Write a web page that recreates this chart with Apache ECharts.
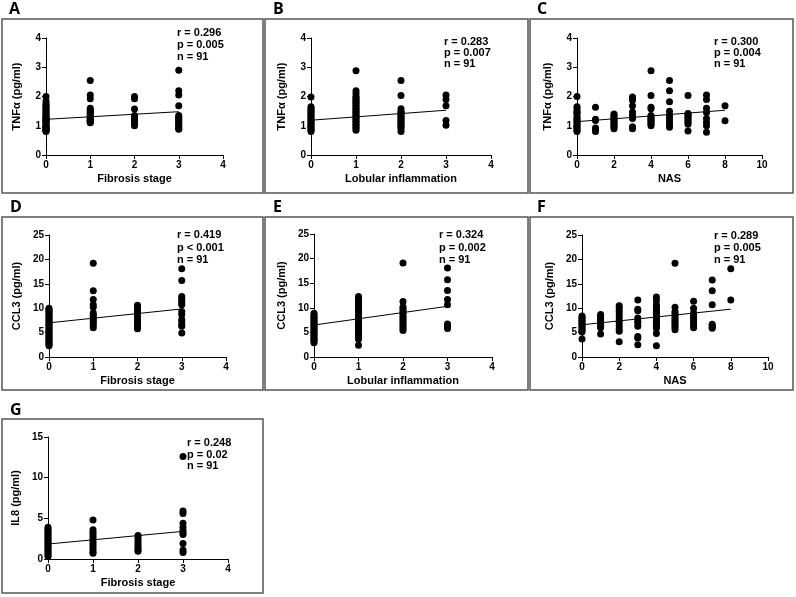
<!DOCTYPE html>
<html><head><meta charset="utf-8">
<script src="https://cdn.jsdelivr.net/npm/echarts@6/dist/echarts.min.js"></script>
<style>html,body{margin:0;padding:0;background:#fff}#c{width:796px;height:597px}</style>
</head><body><div id="c"></div>
<script>
// ---- data: each array index = x category value, values = y readings ----
const tnfFib = [
  [2.0,1.85,1.75,1.7,1.65,1.6,1.55,1.5,1.45,1.4,1.35,1.3,1.28,1.25,1.2,1.18,1.15,1.12,1.1,1.05,1.0,0.98,0.95,0.92,0.9,0.88,0.85,0.82,0.8],
  [2.55,2.05,1.92,1.6,1.55,1.5,1.45,1.4,1.35,1.3,1.28,1.25,1.2,1.18,1.15,1.12,1.1],
  [2.0,1.92,1.57,1.35,1.3,1.25,1.2,1.15,1.1,1.05,1.0],
  [2.9,2.2,2.05,1.68,1.35,1.3,1.25,1.2,1.15,1.1,1.05,1.0,0.95,0.9,0.88]
];
const tnfLob = [
  [1.98,1.65,1.6,1.55,1.5,1.45,1.4,1.35,1.3,1.25,1.2,1.15,1.1,1.05,1.0,0.95,0.9,0.85,0.8],
  [2.88,2.2,2.1,2.0,1.95,1.9,1.85,1.8,1.75,1.7,1.65,1.6,1.55,1.5,1.45,1.4,1.35,1.3,1.25,1.2,1.15,1.1,1.05,1.0,0.95,0.9,0.85],
  [2.55,2.03,1.58,1.5,1.45,1.4,1.35,1.3,1.25,1.2,1.15,1.1,1.05,1.0,0.95,0.9,0.8],
  [2.05,1.9,1.68,1.18,1.02]
];
const tnfNas = [
  [2.0,1.65,1.58,1.5,1.45,1.4,1.3,1.25,1.2,1.15,1.1,1.05,1.0,0.95,0.9,0.85,0.8],
  [1.63,1.22,1.18,0.92,0.85,0.8],
  [1.4,1.35,1.3,1.25,1.2,1.15,1.1,1.05,1.0,0.95,0.9],
  [1.98,1.92,1.88,1.68,1.47,1.35,1.3,1.25,0.97,0.9],
  [2.88,2.03,1.63,1.58,1.35,1.3,1.25,1.2,1.15,1.1,1.05,1.0],
  [2.55,2.2,1.82,1.5,1.38,1.3,1.2,1.1,1.0,0.95],
  [2.03,1.42,1.38,1.33,1.28,1.22,1.15,1.1,1.05,0.82],
  [2.05,1.9,1.6,1.45,1.25,1.12,1.0,0.78],
  [1.68,1.17]
];
const ccl3Fib = [
  [10.0,9.7,9.4,9.1,8.8,8.5,8.2,7.9,7.6,7.3,7.0,6.7,6.4,6.1,5.8,5.5,5.2,4.9,4.6,4.3,4.0,3.7,3.4,3.1,2.8,2.5,2.3],
  [19.2,13.6,11.8,10.7,10.2,9.0,8.6,8.2,7.8,7.4,7.0,6.5,6.0],
  [10.6,10.3,10.0,9.5,9.0,8.6,8.0,7.5,7.0,6.5,6.0,5.8],
  [18.1,15.7,12.4,12.0,11.5,11.0,10.7,9.3,8.7,7.7,7.2,6.7,6.3,4.9]
];
const ccl3Lob = [
  [8.9,8.6,8.3,8.0,7.7,7.4,7.1,6.8,6.5,6.2,5.9,5.6,5.3,5.0,4.7,4.4,4.1,3.8,3.5,3.2,2.9],
  [12.3,12.0,11.6,11.2,10.8,10.4,10.0,9.6,9.2,8.8,8.4,8.0,7.6,7.2,6.8,6.4,6.0,5.6,5.2,4.8,4.4,4.0,3.6,2.4],
  [19.1,11.3,10.2,9.8,9.4,9.0,8.6,8.2,7.8,7.4,7.0,6.6,6.2,5.8,5.4],
  [18.1,15.7,13.5,11.7,10.6,6.7,6.2,5.8]
];
const ccl3Nas = [
  [8.4,8.1,7.8,7.5,7.2,6.9,6.6,6.3,6.0,5.7,5.4,5.1,3.7],
  [8.7,8.3,7.9,7.5,7.1,6.7,6.3,6.0,4.7],
  [10.5,10.0,9.4,8.8,8.2,7.6,7.0,6.4,5.8,5.3,3.1],
  [11.7,9.8,9.5,8.0,7.4,7.0,6.3,4.2,3.9,2.5],
  [12.3,11.6,10.7,10.3,9.9,9.5,9.1,8.7,8.3,7.9,7.5,7.1,6.7,6.3,5.9,4.8,2.3],
  [19.2,10.2,9.3,8.9,8.5,8.1,7.7,7.3,6.9,6.5,6.1,5.6],
  [11.4,10.0,9.0,8.5,8.0,7.5,7.0,6.5,6.0],
  [15.8,13.6,10.7,6.7,6.4,6.1,5.9],
  [18.1,11.7]
];
const il8Fib = [
  [3.9,3.7,3.5,3.3,3.1,2.9,2.7,2.5,2.3,2.1,1.9,1.7,1.5,1.3,1.1,0.9,0.7,0.5,0.3],
  [4.8,3.6,3.3,3.0,2.7,2.4,2.1,1.8,1.5,1.2,0.9,0.7],
  [2.9,2.6,2.3,2.0,1.7,1.4,1.1,0.95],
  [12.6,5.9,5.6,4.4,3.9,3.5,3.2,3.0,1.9,1.1,0.8]
];
// regression line end points
const lineA = [[0,1.22],[3,1.48]];
const lineB = [[0,1.19],[3,1.53]];
const lineC = [[0,1.14],[8,1.53]];
const lineD = [[0,7.0],[3,9.85]];
const lineE = [[0,6.5],[3,10.3]];
const lineF = [[0,6.6],[8,9.8]];
const lineG = [[0,1.84],[3,3.4]];
// texts
const panelLetters = ['A','B','C','D','E','F','G'];
const stats = [
  ['r = 0.296','p = 0.005','n = 91'],
  ['r = 0.283','p = 0.007','n = 91'],
  ['r = 0.300','p = 0.004','n = 91'],
  ['r = 0.419','p < 0.001','n = 91'],
  ['r = 0.324','p = 0.002','n = 91'],
  ['r = 0.289','p = 0.005','n = 91'],
  ['r = 0.248','p = 0.02','n = 91']
];
const xNames = ['Fibrosis stage','Lobular inflammation','NAS','Fibrosis stage','Lobular inflammation','NAS','Fibrosis stage'];
const yNames = ['TNFα (pg/ml)','TNFα (pg/ml)','TNFα (pg/ml)','CCL3 (pg/ml)','CCL3 (pg/ml)','CCL3 (pg/ml)','IL8 (pg/ml)'];
const xMax = [4,4,10,4,4,10,4];
const xInt = [1,1,2,1,1,2,1];
const yMax = [4,4,4,25,25,25,15];
const yInt = [1,1,1,5,5,5,5];
const panelData = [tnfFib,tnfLob,tnfNas,ccl3Fib,ccl3Lob,ccl3Nas,il8Fib];
const panelLines = [lineA,lineB,lineC,lineD,lineE,lineF,lineG];

// ---- layout ----
const grids = [
  {left:46,top:38,width:177,height:117},
  {left:311,top:38,width:180,height:117},
  {left:577,top:38,width:185,height:117},
  {left:49,top:235,width:177,height:122},
  {left:314,top:234,width:178,height:123},
  {left:582,top:235,width:186,height:122},
  {left:48,top:437,width:180,height:122}
];
const boxes = [
  [2,19,261,174],[265,19,263,174],[530,19,263,174],
  [2,217,261,173],[265,217,263,173],[530,217,263,173],
  [2,419,261,174]
];
const letterPos = [[9,9],[273,9],[537,9],[10,207],[273,207],[537,207],[10,410]];
const statPos = [[177,33],[444,42],[714,42],[177,235],[439,235],[714,236],[187,443]];
const statGap = [12,11,11,12.5,12.5,12,11.5];

const FONT = '"Liberation Sans", Arial, sans-serif';
const xAxis = [], yAxis = [], series = [], graphic = [];
grids.forEach((g,i)=>{
  xAxis.push({gridIndex:i,type:'value',min:0,max:xMax[i],interval:xInt[i],
    name:xNames[i],nameLocation:'middle',nameGap:18,
    nameTextStyle:{fontFamily:FONT,fontWeight:'bold',fontSize:11,color:'#000'},
    axisLine:{lineStyle:{color:'#000',width:1}},
    axisTick:{length:4,lineStyle:{color:'#000'}},
    axisLabel:{margin:5,fontFamily:FONT,fontWeight:'bold',fontSize:10,color:'#000'},
    splitLine:{show:false}});
  yAxis.push({gridIndex:i,type:'value',min:0,max:yMax[i],interval:yInt[i],
    name:yNames[i],nameLocation:'middle',nameGap:i>=3?27:24,
    nameTextStyle:{fontFamily:FONT,fontWeight:'bold',fontSize:11,color:'#000'},
    axisLine:{show:true,lineStyle:{color:'#000',width:1}},
    axisTick:{show:true,length:4,lineStyle:{color:'#000'}},
    axisLabel:{margin:5,fontFamily:FONT,fontWeight:'bold',fontSize:10,color:'#000'},
    splitLine:{show:false}});
  const pts = [];
  panelData[i].forEach((col,xv)=>col.forEach(v=>pts.push([xv,v])));
  series.push({type:'scatter',xAxisIndex:i,yAxisIndex:i,data:pts,symbolSize:7,
    itemStyle:{color:'#000',opacity:1},silent:true,z:3});
  series.push({type:'line',xAxisIndex:i,yAxisIndex:i,data:panelLines[i],showSymbol:false,
    lineStyle:{color:'#000',width:1},silent:true,z:4});
  const b = boxes[i];
  graphic.push({type:'rect',shape:{x:b[0],y:b[1],width:b[2],height:b[3]},
    style:{fill:null,stroke:'#555',lineWidth:1.5},silent:true});
  graphic.push({type:'text',style:{text:panelLetters[i],x:letterPos[i][0],y:letterPos[i][1],
    font:'bold 16px "Open Sans", sans-serif',fill:'#000',verticalAlign:'middle'}});
  stats[i].forEach((t,k)=>{
    graphic.push({type:'text',style:{text:t,x:statPos[i][0],y:statPos[i][1]+k*statGap[i],
      font:'bold 11px '+FONT,fill:'#000',verticalAlign:'middle'}});
  });
});

const chart = echarts.init(document.getElementById('c'),null,{renderer:'canvas'});
chart.setOption({animation:false,backgroundColor:'#fff',grid:grids,xAxis,yAxis,series,graphic});
</script></body></html>
